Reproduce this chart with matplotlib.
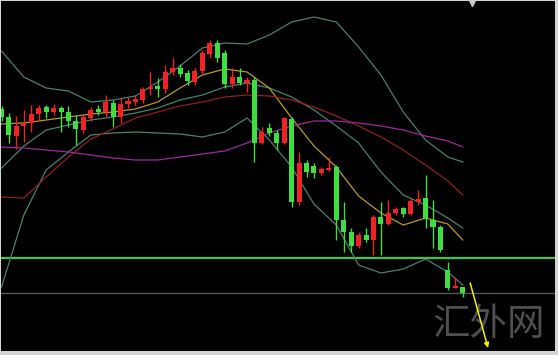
import matplotlib
matplotlib.use("Agg")
import matplotlib.pyplot as plt
from matplotlib.transforms import blended_transform_factory

# candles (price units, higher = up)
opens = [251, 243, 224, 234, 237, 246, 253, 248, 252, 248, 239, 230, 242, 251, 248, 257,
         243, 256, 258, 260, 271, 274, 271, 288, 292, 287, 278, 289, 306, 317, 307, 276,
         283, 277, 280, 217, 232, 227, 217, 241, 158, 197, 194, 187, 190, 193, 140, 128,
         114, 125, 120, 143, 136, 147, 152, 146, 158, 162, 140, 133, 90, 72, 73]
highs = [254, 247, 244, 250, 255, 255, 255, 256, 254, 254, 245, 245, 253, 255, 265, 260,
         262, 263, 265, 273, 288, 282, 295, 302, 296, 290, 292, 310, 320, 320, 310, 292,
         292, 283, 283, 233, 237, 230, 243, 243, 208, 200, 197, 193, 203, 195, 158, 132,
         128, 132, 145, 158, 160, 153, 153, 162, 170, 185, 160, 135, 98, 83, 73]
lows = [239, 217, 211, 218, 228, 240, 242, 245, 228, 233, 215, 227, 239, 245, 243, 233,
        237, 252, 255, 257, 265, 263, 267, 285, 283, 275, 275, 286, 302, 298, 272, 272,
        275, 268, 198, 216, 224, 210, 216, 153, 155, 183, 182, 185, 189, 120, 108, 108,
        112, 118, 105, 105, 135, 145, 143, 145, 155, 132, 112, 108, 70, 72, 63]
closes = [243, 225, 234, 237, 246, 252, 248, 252, 248, 239, 231, 243, 250, 248, 258, 243,
          256, 259, 261, 271, 273, 271, 288, 292, 286, 279, 289, 307, 317, 302, 276, 283,
          277, 280, 217, 228, 227, 217, 242, 158, 197, 188, 187, 191, 192, 140, 128, 114,
          125, 120, 143, 136, 147, 151, 146, 159, 161, 141, 133, 110, 72, 74, 67]

# indicator lines read every 3 bars
line_idx = list(range(0, 61, 3)) + [62]
boll_up = [309, 283, 272, 269, 258, 260, 264, 278, 294, 312, 317, 316, 325, 338, 343, 338,
           313, 285, 248, 220, 203, 198]
boll_mid = [192, 214, 230, 235, 240, 243, 247, 252, 260, 265, 273, 277, 272, 263, 250, 234,
            217, 188, 165, 155, 142, 132]
boll_low = [73, 145, 190, 208, 225, 227, 228, 227, 226, 223, 228, 242, 220, 193, 156, 135,
            95, 87, 91, 101, 88, 75]
ma_fast = [236, 237, 240, 243, 246, 248, 251, 258, 272, 285, 291, 288, 272, 242, 214, 193,
           164, 147, 135, 142, 136, 120]
ma_mid = [163, 162, 183, 203, 221, 231, 242, 248, 254, 258, 263, 265, 264, 260, 253, 244,
          234, 223, 210, 195, 179, 165]
ma_slow = [213, 212, 210, 208, 205, 202, 200, 200, 203, 206, 209, 217, 227, 234, 239, 239,
           237, 234, 230, 224, 219, 213]

support = 102
low_level = 67

fig = plt.figure(figsize=(5.58, 3.55), dpi=100, facecolor="#d4d4d4")
ax = fig.add_axes([1 / 558, 4 / 355, 554 / 558, 350 / 355])
ax.set_facecolor("black")

up_col = "#f02222"
dn_col = "#3ede3e"

for i in range(len(opens)):
    o, h, l, c = opens[i], highs[i], lows[i], closes[i]
    col = up_col if c >= o else dn_col
    ax.vlines(i, l, h, color=col, linewidth=1.0, zorder=3)
    bottom = min(o, c)
    height = max(abs(c - o), 1.5)
    ax.bar(i, height, bottom=bottom, width=0.68, color=col, linewidth=0, zorder=4)

ax.plot(line_idx, boll_up, color="#4d7f6d", linewidth=0.9, zorder=2)
ax.plot(line_idx, boll_mid, color="#4d7f6d", linewidth=0.9, zorder=2)
ax.plot(line_idx, boll_low, color="#4d7f6d", linewidth=0.9, zorder=2)
ax.plot(line_idx, ma_fast, color="#b89a2a", linewidth=0.9, zorder=2)
ax.plot(line_idx, ma_mid, color="#8e1f1f", linewidth=0.9, zorder=2)
ax.plot(line_idx, ma_slow, color="#9a2a9a", linewidth=0.9, zorder=2)

ax.axhline(support, color="#3cc83c", linewidth=1.6, zorder=1)
ax.axhline(low_level, color="#555555", linewidth=1.0, zorder=1)

# watermark
ax.text(0.88, 0.075, "汇外网", transform=ax.transAxes, ha="center", va="center",
        fontsize=27, color="#4e4e4e", family=["Noto Sans CJK SC", "DejaVu Sans"],
        fontweight="light", zorder=5)

ax.annotate("", xy=(65.4, 12), xytext=(63.0, 77),
            arrowprops=dict(arrowstyle="-|>", color="#f2f200", lw=1.1,
                            mutation_scale=7, shrinkA=0, shrinkB=0), zorder=6)

trans = blended_transform_factory(ax.transData, ax.transAxes)
ax.plot([63.2], [0.994], marker="v", color="#c8c8c8", markersize=4,
        transform=trans, clip_on=False, zorder=6)

ax.set_xlim(-0.07, 74.4)
ax.set_ylim(9, 359)
ax.set_xticks([])
ax.set_yticks([])
for s in ax.spines.values():
    s.set_visible(False)

fig.savefig("out.png", dpi=100, facecolor=fig.get_facecolor())
